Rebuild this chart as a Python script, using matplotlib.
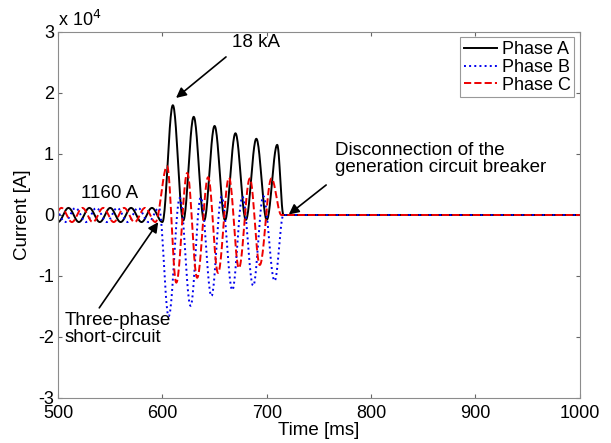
import numpy as np
import matplotlib
matplotlib.use("Agg")
import matplotlib.pyplot as plt

plt.rcParams['font.family'] = ['Liberation Sans', 'DejaVu Sans']

# peaks and troughs (time in ms, current in A)
# pre-fault 50 Hz at 1160 A, fault at 600 ms, breaker opens ~716 ms
tA = [480, 490, 500, 510, 520, 530, 540, 550, 560, 570, 580, 590, 600,
      610, 620, 630, 640, 650, 660, 670, 680, 690, 700, 710, 716, 1000]
iA = [-1160, 1160, -1160, 1160, -1160, 1160, -1160, 1160, -1160, 1160, -1160, 1160, -1160,
      18000, -900, 16100, -900, 14600, -850, 13400, -800, 12500, -800, 11500, 0, 0]

tB = [486.7, 496.7, 506.7, 516.7, 526.7, 536.7, 546.7, 556.7, 566.7, 576.7, 586.7, 596.7,
      606.0, 616.7, 627.0, 636.7, 647.0, 656.7, 667.0, 676.7, 687.0, 696.7, 707.5, 716, 1000]
iB = [-1160, 1160, -1160, 1160, -1160, 1160, -1160, 1160, -1160, 1160, -1160, 1160,
      -16600, 2800, -14900, 2900, -13300, 3000, -12300, 3000, -11600, 3100, -10800, 0, 0]

tC = [483.3, 493.3, 503.3, 513.3, 523.3, 533.3, 543.3, 553.3, 563.3, 573.3, 583.3, 593.3,
      604.5, 613.3, 623.8, 633.3, 643.8, 653.3, 663.8, 673.3, 683.8, 693.3, 704.5, 714, 1000]
iC = [1160, -1160, 1160, -1160, 1160, -1160, 1160, -1160, 1160, -1160, 1160, -1160,
      8000, -11100, 6900, -10300, 6200, -9500, 6100, -8700, 6000, -8200, 6000, 0, 0]


def wave(tk, vk):
    # join the read-off extrema with half-cosine arcs so the trace looks like the scope
    xs, ys = [], []
    for k in range(len(tk) - 1):
        s = np.linspace(0, 1, 25)
        xs.append(tk[k] + (tk[k + 1] - tk[k]) * s)
        ys.append(vk[k] + (vk[k + 1] - vk[k]) * (1 - np.cos(np.pi * s)) / 2)
    return np.concatenate(xs), np.concatenate(ys)


fig = plt.figure(figsize=(6.11, 4.43), dpi=100)
ax = fig.add_axes([0.095, 0.1016, 0.854, 0.8262])

x, y = wave(tA, iA)
ax.plot(x, y, '-', color='k', lw=1.4, label='Phase A')
x, y = wave(tB, iB)
ax.plot(x, y, ':', color='#0000ee', lw=1.4, label='Phase B')
x, y = wave(tC, iC)
ax.plot(x, y, '--', color='#ee0000', lw=1.4, label='Phase C')

ax.set_xlim(500, 1000)
ax.set_ylim(-30000, 30000)
ax.set_xticks(range(500, 1001, 100))
ax.set_yticks(np.arange(-30000, 30001, 10000))
ax.set_yticklabels(['-3', '-2', '-1', '0', '1', '2', '3'])
ax.tick_params(direction='in', length=3, labelsize=13, top=True, right=True,
               color='0.4')
ax.tick_params(axis='x', pad=5)
ax.tick_params(axis='y', pad=3)
for sp in ax.spines.values():
    sp.set_color('0.55')
    sp.set_linewidth(0.8)

ax.set_xlabel('Time [ms]', fontsize=13.5, labelpad=0)
ax.set_ylabel('Current [A]', fontsize=13.5, labelpad=5)
ax.text(0.0, 1.005, 'x 10$^4$', transform=ax.transAxes, fontsize=13,
        ha='left', va='bottom')

leg = ax.legend(loc='upper right', fontsize=13, frameon=True, fancybox=False,
                borderpad=0.2, labelspacing=0.05, handlelength=1.8, handletextpad=0.3,
                borderaxespad=0.3)
leg.get_frame().set_edgecolor('0.5')
leg.get_frame().set_linewidth(0.8)

arr = dict(arrowstyle='-|>', color='k', lw=1.2, mutation_scale=15)
ax.annotate('', xy=(611, 18900), xytext=(663, 26200), arrowprops=arr)
ax.text(667, 28200, '18 kA', fontsize=13.5, ha='left', va='center')

ax.text(549, 3600, '1160 A', fontsize=13.5, ha='center', va='center')

ax.annotate('', xy=(597.5, -800), xytext=(538, -15600), arrowprops=arr)
ax.text(506, -18700, 'Three-phase\nshort-circuit', fontsize=13.5, ha='left', va='center',
        linespacing=1.05)

ax.annotate('', xy=(719, -200), xytext=(759, 5200), arrowprops=arr)
ax.text(765, 9200, 'Disconnection of the\ngeneration circuit breaker', fontsize=13.5,
        ha='left', va='center', linespacing=1.05)

fig.savefig('out.png', dpi=100)
